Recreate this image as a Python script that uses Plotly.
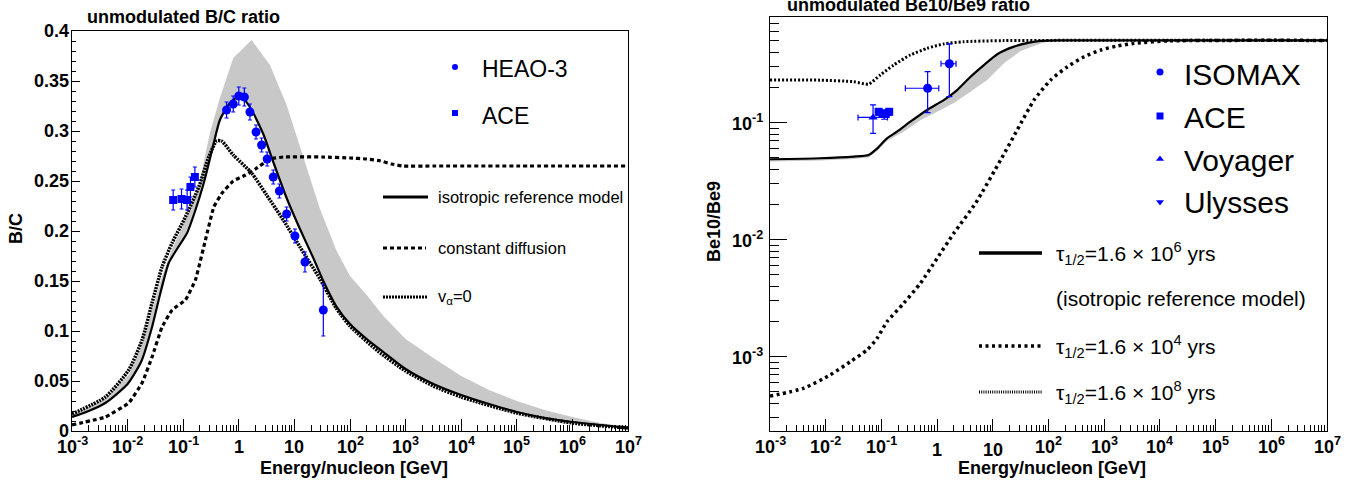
import plotly.graph_objects as go

# ------------------------------------------------------------------ data
# Left panel: B/C ratio (energy given as log10(E/GeV))
bc_ref_logE = [-3.0, -2.7, -2.4, -2.0, -1.75, -1.56, -1.41, -1.26, -1.1, -0.93, -0.78, -0.63,
               -0.48, -0.34, -0.16, 0.02, 0.2, 0.44, 0.62, 0.86, 1.1, 1.34, 1.52, 1.75, 2.0,
               2.3, 2.6, 3.0, 3.5, 4.0, 4.5, 5.0, 5.5, 6.0, 6.5, 7.0]
bc_ref = [0.014, 0.020, 0.028, 0.047, 0.070, 0.104, 0.138, 0.168, 0.183, 0.198, 0.221, 0.248,
          0.281, 0.311, 0.328, 0.335, 0.324, 0.297, 0.269, 0.233, 0.202, 0.173, 0.150, 0.125, 0.107,
          0.092, 0.079, 0.062, 0.047, 0.036, 0.027, 0.019, 0.013, 0.009, 0.006, 0.003]

bc_va0_logE = [-3.0, -2.4, -1.98, -1.74, -1.56, -1.38, -1.2, -0.96, -0.72, -0.54, -0.4, -0.31,
               -0.1, 0.23, 0.5, 0.8, 1.1, 1.46, 1.75, 2.0, 2.5, 3.0, 3.5, 4.0, 5.0, 6.0, 7.0]
bc_va0 = [0.017, 0.034, 0.061, 0.091, 0.128, 0.164, 0.188, 0.214, 0.244, 0.274, 0.290, 0.290,
          0.276, 0.258, 0.236, 0.211, 0.184, 0.152, 0.123, 0.105, 0.080, 0.060, 0.045, 0.034,
          0.018, 0.008, 0.003]

bc_const_logE = [-3.0, -2.4, -1.98, -1.74, -1.56, -1.38, -1.2, -0.96, -0.78, -0.6, -0.45, -0.3,
                 -0.1, 0.12, 0.3, 0.56, 0.8, 1.5, 2.0, 2.3, 2.55, 2.75, 2.95, 3.5, 5.0, 7.0]
bc_const = [0.006, 0.014, 0.028, 0.048, 0.074, 0.104, 0.121, 0.131, 0.151, 0.191, 0.224, 0.238,
            0.250, 0.256, 0.262, 0.272, 0.274, 0.274, 0.273, 0.272, 0.270, 0.267, 0.265, 0.265,
            0.265, 0.265]

bc_band_hi_logE = [-3.0, -2.4, -1.98, -1.74, -1.56, -1.38, -1.2, -0.96, -0.72, -0.52, -0.34, -0.1,
                   0.23, 0.56, 0.86, 1.16, 1.46, 1.76, 2.0, 2.3, 2.6, 3.0, 3.5, 4.0, 4.5, 5.0,
                   5.5, 6.0, 6.5, 7.0]
bc_band_hi = [0.016, 0.032, 0.056, 0.085, 0.120, 0.155, 0.182, 0.210, 0.245, 0.298, 0.333, 0.373,
              0.391, 0.366, 0.326, 0.273, 0.222, 0.180, 0.155, 0.136, 0.115, 0.092, 0.073, 0.055,
              0.041, 0.030, 0.021, 0.014, 0.008, 0.004]

heao_logE = [-0.22, -0.10, 0.0, 0.10, 0.20, 0.31, 0.41, 0.51, 0.62, 0.73, 0.86, 1.01, 1.19, 1.52]
heao_bc = [0.321, 0.327, 0.335, 0.334, 0.319, 0.299, 0.286, 0.272, 0.254, 0.240, 0.217, 0.195,
           0.169, 0.121]
heao_err = [0.008, 0.008, 0.009, 0.009, 0.008, 0.007, 0.007, 0.007, 0.007, 0.007, 0.007, 0.007,
            0.010, 0.026]

ace_bc_logE = [-1.18, -1.03, -0.93, -0.87, -0.79]
ace_bc = [0.231, 0.232, 0.231, 0.244, 0.254]
ace_bc_err = [0.010, 0.010, 0.010, 0.010, 0.010]

# Right panel: Be10/Be9 ratio
be_ref_logE = [-3.0, -2.1, -1.5, -1.23, -1.08, -0.9, -0.72, -0.48, -0.18, 0.12, 0.36, 0.6, 0.84,
               1.08, 1.38, 1.65, 1.86, 2.2, 7.0]
be_ref = [0.0487, 0.0497, 0.0513, 0.053, 0.060, 0.0736, 0.0838, 0.102, 0.1285, 0.156, 0.190,
          0.247, 0.311, 0.385, 0.447, 0.483, 0.500, 0.505, 0.505]

be_band_lo_logE = [-3.0, -2.1, -1.5, -1.23, -1.08, -0.9, -0.6, -0.3, 0.0, 0.3, 0.6, 0.9, 1.2, 1.5,
                   1.68, 1.86, 2.04, 2.3, 7.0]
be_band_lo = [0.0465, 0.0475, 0.049, 0.0505, 0.057, 0.070, 0.0838, 0.105, 0.124, 0.147, 0.184,
              0.232, 0.322, 0.410, 0.440, 0.475, 0.498, 0.505, 0.505]

be_1e8_logE = [-3.0, -2.1, -1.5, -1.23, -1.02, -0.78, -0.48, -0.18, 0.12, 0.48, 1.2, 7.0]
be_1e8 = [0.232, 0.231, 0.224, 0.214, 0.256, 0.311, 0.379, 0.432, 0.471, 0.492, 0.503, 0.505]

be_1e4_logE = [-3.0, -2.4, -1.92, -1.56, -1.26, -1.08, -0.9, -0.6, -0.3, 0.0, 0.3, 0.69, 1.14,
               1.44, 1.74, 2.04, 2.34, 2.64, 2.94, 3.24, 3.54, 4.14, 7.0]
be_1e4 = [4.6e-4, 5.37e-4, 6.98e-4, 9.06e-4, 1.14e-3, 1.43e-3, 1.99e-3, 2.86e-3, 4.24e-3,
          6.93e-3, 0.01135, 0.0205, 0.048, 0.087, 0.156, 0.232, 0.301, 0.366, 0.418, 0.453,
          0.477, 0.500, 0.505]

isomax_logE = [-0.17, 0.22]
isomax_logE_lo = [-0.57, 0.07]
isomax_logE_hi = [0.03, 0.34]
isomax = [0.197, 0.319]
isomax_lo = [0.122, 0.167]
isomax_hi = [0.273, 0.471]

ace_be_logE = [-1.05, -0.98, -0.92, -0.86]
ace_be = [0.124, 0.120, 0.119, 0.124]
ace_be_err = [0.008, 0.008, 0.008, 0.008]

voyager_logE = [-1.15]
voyager_logE_lo = [-1.42]
voyager_logE_hi = [-0.89]
voyager = [0.111]
voyager_lo = [0.081]
voyager_hi = [0.142]

ulysses_logE = [-0.95]
ulysses = [0.117]
ulysses_err = [0.010]

x_tick_exp = list(range(-3, 8))
be_tick_exp = [-3, -2, -1]
bc_tick_vals = [0, 0.05, 0.1, 0.15, 0.2, 0.25, 0.3, 0.35, 0.4]
bc_tick_text = ["0", "0.05", "0.1", "0.15", "0.2", "0.25", "0.3", "0.35", "0.4"]

# ------------------------------------------------------------------ helpers
W, H = 1351, 482
FONT = "Liberation Sans, Arial, Helvetica, sans-serif"
BLUE = "#0000ff"


def E(logs):
    return [10 ** v for v in logs]


def dom_x(a, b):
    return [a / W, b / W]


def dom_y(top, bottom):
    return [(H - bottom) / H, (H - top) / H]


def b(s):
    return "<b>" + s + "</b>"


def exp_label(k):
    if k == 0:
        return b("1")
    if k == 1:
        return b("10")
    return b("10<sup>%d</sup>" % k)


SPL = dict(shape="spline", smoothing=0.6)

fig = go.Figure()

# ------------------------------------------------------------------ left panel
fig.add_trace(go.Scatter(
    x=E(bc_band_hi_logE) + E(bc_ref_logE)[::-1], y=bc_band_hi + bc_ref[::-1],
    fill="toself", fillcolor="#c8c8c8", line=dict(width=0), mode="lines",
    xaxis="x", yaxis="y"))
fig.add_trace(go.Scatter(x=E(bc_const_logE), y=bc_const, mode="lines",
                         line=dict(color="black", width=3.2, dash="4px,3px",
                                   shape="spline", smoothing=0.3),
                         xaxis="x", yaxis="y"))
fig.add_trace(go.Scatter(x=E(bc_va0_logE), y=bc_va0, mode="lines",
                         line=dict(color="black", width=3.5, dash="2px,1px", **SPL),
                         xaxis="x", yaxis="y"))
fig.add_trace(go.Scatter(x=E(bc_ref_logE), y=bc_ref, mode="lines",
                         line=dict(color="black", width=2.2, **SPL),
                         xaxis="x", yaxis="y"))
fig.add_trace(go.Scatter(x=E(ace_bc_logE), y=ace_bc, mode="markers",
                         marker=dict(symbol="square", size=8, color=BLUE),
                         error_y=dict(type="data", array=ace_bc_err, color=BLUE,
                                      thickness=1.2, width=2),
                         xaxis="x", yaxis="y"))
fig.add_trace(go.Scatter(x=E(heao_logE), y=heao_bc, mode="markers",
                         marker=dict(symbol="circle", size=9, color=BLUE),
                         error_y=dict(type="data", array=heao_err, color=BLUE,
                                      thickness=1.2, width=2),
                         xaxis="x", yaxis="y"))

# ------------------------------------------------------------------ right panel
fig.add_trace(go.Scatter(
    x=E(be_ref_logE) + E(be_band_lo_logE)[::-1], y=be_ref + be_band_lo[::-1],
    fill="toself", fillcolor="#c8c8c8", line=dict(width=0), mode="lines",
    xaxis="x2", yaxis="y2"))
fig.add_trace(go.Scatter(x=E(be_1e4_logE), y=be_1e4, mode="lines",
                         line=dict(color="black", width=3.5, dash="3px,3.5px", **SPL),
                         xaxis="x2", yaxis="y2"))
fig.add_trace(go.Scatter(x=E(be_1e8_logE), y=be_1e8, mode="lines",
                         line=dict(color="black", width=3, dash="2px,2px", **SPL),
                         xaxis="x2", yaxis="y2"))
fig.add_trace(go.Scatter(x=E(be_ref_logE), y=be_ref, mode="lines",
                         line=dict(color="black", width=2.2, **SPL),
                         xaxis="x2", yaxis="y2"))


def asym(center, lo, hi):
    return ([h - c for c, h in zip(center, hi)], [c - l for c, l in zip(center, lo)])


iso_E = E(isomax_logE)
iso_xp, iso_xm = asym(iso_E, E(isomax_logE_lo), E(isomax_logE_hi))
iso_yp, iso_ym = asym(isomax, isomax_lo, isomax_hi)
fig.add_trace(go.Scatter(x=iso_E, y=isomax, mode="markers",
                         marker=dict(symbol="circle", size=9, color=BLUE),
                         error_x=dict(type="data", symmetric=False, array=iso_xp,
                                      arrayminus=iso_xm, color=BLUE, thickness=1.2, width=3),
                         error_y=dict(type="data", symmetric=False, array=iso_yp,
                                      arrayminus=iso_ym, color=BLUE, thickness=1.2, width=3),
                         xaxis="x2", yaxis="y2"))
voy_E = E(voyager_logE)
voy_xp, voy_xm = asym(voy_E, E(voyager_logE_lo), E(voyager_logE_hi))
voy_yp, voy_ym = asym(voyager, voyager_lo, voyager_hi)
fig.add_trace(go.Scatter(x=voy_E, y=voyager, mode="markers",
                         marker=dict(symbol="triangle-up", size=8, color=BLUE),
                         error_x=dict(type="data", symmetric=False, array=voy_xp,
                                      arrayminus=voy_xm, color=BLUE, thickness=1.2, width=3),
                         error_y=dict(type="data", symmetric=False, array=voy_yp,
                                      arrayminus=voy_ym, color=BLUE, thickness=1.2, width=3),
                         xaxis="x2", yaxis="y2"))
fig.add_trace(go.Scatter(x=E(ulysses_logE), y=ulysses, mode="markers",
                         marker=dict(symbol="triangle-down", size=8, color=BLUE),
                         error_y=dict(type="data", array=ulysses_err, color=BLUE,
                                      thickness=1.2, width=3),
                         xaxis="x2", yaxis="y2"))
fig.add_trace(go.Scatter(x=E(ace_be_logE), y=ace_be, mode="markers",
                         marker=dict(symbol="square", size=8, color=BLUE),
                         error_y=dict(type="data", array=ace_be_err, color=BLUE,
                                      thickness=1.2, width=3),
                         xaxis="x2", yaxis="y2"))

# ------------------------------------------------------------------ legends (pixel overlay)
leg = dict(xaxis="x3", yaxis="y3", hoverinfo="skip")
fig.add_trace(go.Scatter(x=[455], y=[67], mode="markers",
                         marker=dict(symbol="circle", size=6, color=BLUE), **leg))
fig.add_trace(go.Scatter(x=[455], y=[113], mode="markers",
                         marker=dict(symbol="square", size=6, color=BLUE), **leg))
fig.add_trace(go.Scatter(x=[383, 428], y=[197, 197], mode="lines",
                         line=dict(color="black", width=3), **leg))
fig.add_trace(go.Scatter(x=[383, 426], y=[248, 248], mode="lines",
                         line=dict(color="black", width=3.2, dash="4px,3px"), **leg))
fig.add_trace(go.Scatter(x=[383, 427], y=[297, 297], mode="lines",
                         line=dict(color="black", width=3, dash="2px,1px"), **leg))
fig.add_trace(go.Scatter(x=[1160], y=[72], mode="markers",
                         marker=dict(symbol="circle", size=7, color=BLUE), **leg))
fig.add_trace(go.Scatter(x=[1160], y=[116], mode="markers",
                         marker=dict(symbol="square", size=7, color=BLUE), **leg))
fig.add_trace(go.Scatter(x=[1160], y=[159], mode="markers",
                         marker=dict(symbol="triangle-up", size=7, color=BLUE), **leg))
fig.add_trace(go.Scatter(x=[1160], y=[202], mode="markers",
                         marker=dict(symbol="triangle-down", size=7, color=BLUE), **leg))
fig.add_trace(go.Scatter(x=[979, 1042], y=[253, 253], mode="lines",
                         line=dict(color="black", width=3.5), **leg))
fig.add_trace(go.Scatter(x=[979, 1042], y=[346, 346], mode="lines",
                         line=dict(color="black", width=3.5, dash="3px,3.5px"), **leg))
fig.add_trace(go.Scatter(x=[979, 1042], y=[392, 392], mode="lines",
                         line=dict(color="black", width=3, dash="1px,1.2px"), **leg))


def txt(x, y, s, size, anchor="left", bold=False, angle=0, yanchor="middle",
        xref="x3", yref="y3"):
    return dict(x=x, y=y, xref=xref, yref=yref, text=b(s) if bold else s, showarrow=False,
                xanchor=anchor, yanchor=yanchor, textangle=angle, borderpad=0,
                font=dict(family=FONT, size=size, color="black"))


annotations = [
    txt(481, 69, "HEAO-3", 23),
    txt(481, 116, "ACE", 23),
    txt(437, 197, "isotropic reference model", 16.5),
    txt(437, 248, "constant diffusion", 16.5),
    txt(437, 297, "v<sub>α</sub>=0", 16.5),
    txt(1183, 74, "ISOMAX", 30),
    txt(1183, 117, "ACE", 30),
    txt(1183, 160, "Voyager", 30),
    txt(1183, 202, "Ulysses", 30),
    txt(1055, 253, "τ<sub>1/2</sub>=1.6 × 10<sup>6</sup> yrs", 21),
    txt(1055, 298, "(isotropic reference model)", 21),
    txt(1055, 346, "τ<sub>1/2</sub>=1.6 × 10<sup>4</sup> yrs", 21),
    txt(1055, 392, "τ<sub>1/2</sub>=1.6 × 10<sup>8</sup> yrs", 21),
    txt(86, 17, "unmodulated B/C ratio", 18, bold=True),
    txt(786, 5, "unmodulated Be10/Be9 ratio", 18, bold=True),
    txt(354, 468, "Energy/nucleon [GeV]", 18, anchor="center", bold=True),
    txt(1052, 468, "Energy/nucleon [GeV]", 18, anchor="center", bold=True),
    txt(16, 229, "B/C", 18, anchor="center", bold=True, angle=-90),
    txt(714, 222, "Be10/Be9", 18, anchor="center", bold=True, angle=-90),
]

# tick labels (placed through the axes' own scales; log axes take log10 positions)
for k in x_tick_exp:
    annotations.append(txt(k, 458, exp_label(k), 18, anchor="center", yanchor="bottom",
                           xref="x", yref="y3"))
    low = 3 if k in (0, 1) else 0
    annotations.append(txt(k, 458 + low, exp_label(k), 18, anchor="center",
                           yanchor="bottom", xref="x2", yref="y3"))
for v, t in zip(bc_tick_vals, bc_tick_text):
    annotations.append(txt(70, v, b(t), 18, anchor="right", xref="x3", yref="y"))
for k in be_tick_exp:
    annotations.append(txt(764, k, b("10<sup>%d</sup>" % k), 18, anchor="right",
                           xref="x3", yref="y2"))

# ------------------------------------------------------------------ axes
minor_x = [m * 10.0 ** k for k in range(-3, 7) for m in range(2, 10)]
minor_be = [m * 10.0 ** k for k in range(-4, 0) for m in range(2, 10)]

frame = dict(showline=True, linecolor="black", linewidth=1, mirror=True, showgrid=False,
             zeroline=False, fixedrange=True, automargin=False, showticklabels=False,
             tickcolor="black", tickwidth=1, ticks="inside")

xcommon = dict(type="log", range=[-3, 7], tickmode="array",
               tickvals=[10.0 ** k for k in x_tick_exp], ticklen=12,
               minor=dict(tickvals=minor_x, ticks="inside", ticklen=6, tickcolor="black",
                          tickwidth=1, showgrid=False),
               **frame)

fig.update_layout(
    template="none",
    width=W, height=H, margin=dict(l=0, r=0, t=0, b=0, pad=0, autoexpand=False),
    font=dict(family=FONT, size=18, color="black"),
    paper_bgcolor="white", plot_bgcolor="rgba(0,0,0,0)", showlegend=False, hovermode=False,
    xaxis=dict(domain=dom_x(72, 628), anchor="y", **xcommon),
    yaxis=dict(domain=dom_y(31, 431), anchor="x", range=[0, 0.4], tickmode="array",
               tickvals=bc_tick_vals, ticklen=8,
               minor=dict(tickmode="linear", tick0=0, dtick=0.01, ticks="inside", ticklen=4,
                          tickcolor="black", tickwidth=1, showgrid=False),
               **frame),
    xaxis2=dict(domain=dom_x(770, 1327), anchor="y2", **xcommon),
    yaxis2=dict(domain=dom_y(17, 431), anchor="x2", type="log", range=[-3.635, -0.0966],
                tickmode="array", tickvals=[10.0 ** k for k in be_tick_exp], ticklen=17,
                minor=dict(tickvals=minor_be, ticks="inside", ticklen=9, tickcolor="black",
                           tickwidth=1, showgrid=False),
                **frame),
    xaxis3=dict(domain=[0, 1], anchor="y3", range=[0, W], visible=False, fixedrange=True,
                automargin=False),
    yaxis3=dict(domain=[0, 1], anchor="x3", range=[H, 0], visible=False, fixedrange=True,
                automargin=False),
    annotations=annotations,
)

fig.write_html("out.html")
